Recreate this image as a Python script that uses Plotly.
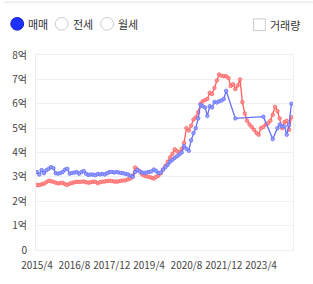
import plotly.graph_objects as go
import pandas as pd

start = "2015-04-01"

red_values = [
    2.67, 2.66, 2.70, 2.72, 2.78, 2.84, 2.82, 2.80, 2.76, 2.73,
    2.75, 2.76, 2.70, 2.67, 2.72, 2.75, 2.78, 2.80, 2.79, 2.80,
    2.81, 2.78, 2.76, 2.78, 2.80, 2.80, 2.74, 2.78, 2.80, 2.81,
    2.83, 2.84, 2.83, 2.81, 2.80, 2.82, 2.84, 2.85, 2.86, 2.90,
    2.93, 3.05, 3.38, 3.30, 3.22, 3.10, 3.05, 3.02, 3.00, 2.97,
    2.93, 3.00, 3.05, 3.15, 3.30, 3.45, 3.62, 3.80, 3.95, 4.13,
    4.05, 4.00, 4.15, 4.40, 5.00, 4.90, 5.10, 5.35, 5.45, 5.65,
    6.00, 6.10, 6.15, 6.20, 6.45, 6.40, 6.65, 6.95, 7.20, 7.15,
    7.13, 7.13, 7.05, 6.73, 6.80, 6.60, 6.75, 7.00, 6.07, 5.60,
    5.30, 5.15, 5.05, 4.93, 4.80, 4.73, 5.00, 5.05, 5.15, 5.20,
    5.30, 5.55, 5.87, 5.70, 5.40, 5.00, 5.25, 5.30, 4.93, 5.45,
]
red_dates = pd.date_range(start, periods=len(red_values), freq="MS")

blue_monthly = [
    3.20, 3.10, 3.28, 3.15, 3.27, 3.33, 3.40, 3.36, 3.15, 3.13,
    3.16, 3.20, 3.30, 3.33, 3.13, 3.16, 3.18, 3.20, 3.13, 3.20,
    3.24, 3.13, 3.08, 3.10, 3.09, 3.07, 3.12, 3.10, 3.12, 3.10,
    3.15, 3.20, 3.20, 3.18, 3.20, 3.18, 3.16, 3.15, 3.12, 3.10,
    3.05, 3.00, 3.20, 3.29, 3.22, 3.18, 3.16, 3.18, 3.20, 3.22,
    3.30, 3.25, 3.15, 3.18, 3.30, 3.40, 3.50, 3.62, 3.70, 3.78,
    3.85, 3.92, 4.00, 4.27, 4.15, 4.07, 4.50, 4.80, 5.00, 5.40,
    5.96, 5.90, 5.85, 5.50, 5.90, 5.85, 6.07, 6.05, 6.10, 6.13,
    6.20, 6.53,
]
blue_late_dates = ["2022-05-01", "2023-05-01", "2023-09-01", "2023-11-01",
                   "2023-12-01", "2024-01-01", "2024-02-01", "2024-03-01",
                   "2024-04-01", "2024-05-01"]
blue_late_values = [5.40, 5.47, 4.55, 5.00, 5.15, 5.07, 5.07, 4.73, 5.13, 6.00]

blue_dates = list(pd.date_range(start, periods=len(blue_monthly), freq="MS")) + list(pd.to_datetime(blue_late_dates))
blue_values = blue_monthly + blue_late_values

x_tick_vals = ["2015-04-01", "2016-08-01", "2017-12-01", "2019-04-01",
               "2020-08-01", "2021-12-01", "2023-04-01"]
x_tick_text = ["2015/4", "2016/8", "2017/12", "2019/4", "2020/8", "2021/12", "2023/4"]
y_tick_vals = [0, 1, 2, 3, 4, 5, 6, 7, 8]
y_tick_text = ["0", "1억", "2억", "3억", "4억", "5억", "6억", "7억", "8억"]

radio_labels = ["매매", "전세", "월세"]
check_label = "거래량"

FONT = "Noto Sans CJK KR"

fig = go.Figure()
fig.add_trace(go.Scatter(
    x=red_dates, y=red_values, mode="lines+markers",
    line=dict(color="rgb(255,95,95)", width=1.3),
    marker=dict(size=3.5, color="rgba(255,150,150,0.9)", line=dict(color="rgb(255,95,95)", width=0.8)),
    showlegend=False,
))
fig.add_trace(go.Scatter(
    x=blue_dates, y=blue_values, mode="lines+markers",
    line=dict(color="rgb(100,110,250)", width=1.3),
    marker=dict(size=3.5, color="rgba(150,160,255,0.9)", line=dict(color="rgb(100,110,250)", width=0.8)),
    showlegend=False,
))

fig.update_layout(
    width=313, height=284,
    margin=dict(l=33, r=20, t=55, b=29),
    paper_bgcolor="white", plot_bgcolor="white",
    font=dict(family=FONT, size=10, color="#444"),
    xaxis=dict(
        type="date", range=["2015-03-19", "2024-05-22"],
        tickvals=x_tick_vals, ticktext=x_tick_text, tickangle=0,
        showgrid=False, showline=True, linecolor="#eeeeee", mirror=True,
        tickfont=dict(size=10, color="#444"), ticks="", ticklen=0,
        ticklabelstandoff=6,
        fixedrange=True,
    ),
    yaxis=dict(
        range=[0, 8], tickvals=y_tick_vals, ticktext=y_tick_text,
        showgrid=True, gridcolor="#f0f0f0", zeroline=False,
        showline=True, linecolor="#eeeeee", mirror=True,
        tickfont=dict(size=10, color="#444"), ticks="", ticklen=0,
        ticklabelstandoff=6,
        fixedrange=True,
    ),
)

# radio buttons
radio_cx = [14, 59, 105]
for i, (cx, lab) in enumerate(zip(radio_cx, radio_labels)):
    if i == 0:
        fig.add_shape(type="circle", xref="paper", yref="paper",
                      x0=(cx - 6.5 - 33) / 260, x1=(cx + 6.5 - 33) / 260,
                      y0=(284 - 29 - (23 + 6.5)) / 200, y1=(284 - 29 - (23 - 6.5)) / 200,
                      fillcolor="rgb(30,50,255)", line=dict(color="rgb(20,30,200)", width=1))
    else:
        fig.add_shape(type="circle", xref="paper", yref="paper",
                      x0=(cx - 6.5 - 33) / 260, x1=(cx + 6.5 - 33) / 260,
                      y0=(284 - 29 - (23 + 6.5)) / 200, y1=(284 - 29 - (23 - 6.5)) / 200,
                      fillcolor="white", line=dict(color="#cccccc", width=1))
    fig.add_annotation(xref="paper", yref="paper",
                       x=(cx + 9 - 33) / 260, y=(284 - 29 - 23) / 200,
                       text=lab, showarrow=False, xanchor="left", yanchor="middle",
                       font=dict(family=FONT, size=11, color="#333"))

# checkbox
fig.add_shape(type="rect", xref="paper", yref="paper",
              x0=(253 - 33) / 260, x1=(265 - 33) / 260,
              y0=(284 - 29 - 30) / 200, y1=(284 - 29 - 18) / 200,
              fillcolor="white", line=dict(color="#cccccc", width=1))
fig.add_annotation(xref="paper", yref="paper",
                   x=(268 - 33) / 260, y=(284 - 29 - 24) / 200,
                   text=check_label, showarrow=False, xanchor="left", yanchor="middle",
                   font=dict(family=FONT, size=11, color="#333"))

# top faint border
fig.add_shape(type="line", xref="paper", yref="paper",
              x0=-33 / 260, x1=1 + 20 / 260,
              y0=(284 - 29 - 1) / 200, y1=(284 - 29 - 1) / 200,
              line=dict(color="#eeeeee", width=2))

fig.write_html("out.html", config={"displayModeBar": False})
